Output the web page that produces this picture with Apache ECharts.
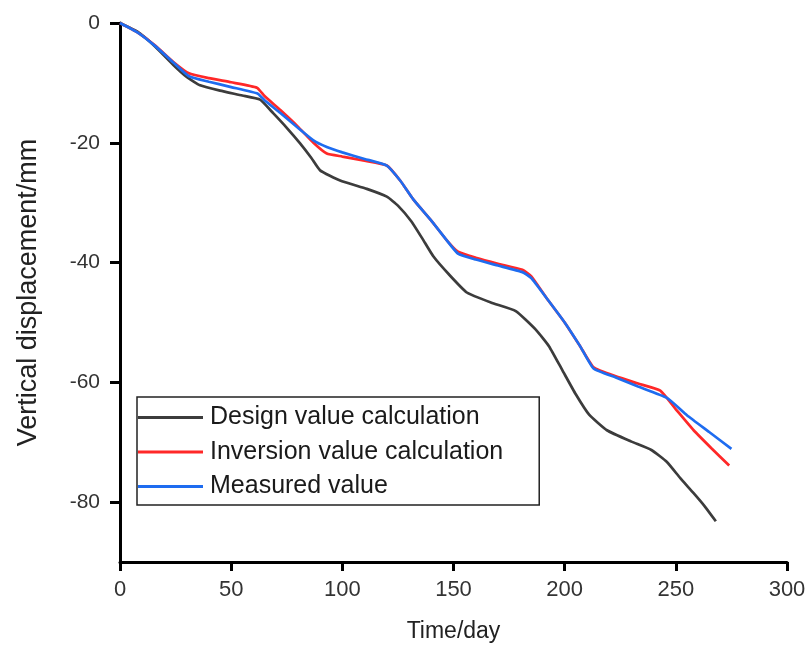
<!DOCTYPE html>
<html><head><meta charset="utf-8">
<script src="https://cdn.jsdelivr.net/npm/echarts@6/dist/echarts.min.js"></script>
<style>html,body{margin:0;padding:0;background:#fff}#c{width:806px;height:646px}</style>
</head><body><div id="c"></div>
<script>
const seriesNames = ['Design value calculation','Inversion value calculation','Measured value'];
const xTicks = [0,50,100,150,200,250,300];
const yTicks = [0,-20,-40,-60,-80];
const designValue = [[0,0],[8,-1.5],[16,-4],[24,-7],[30,-9],[36,-10.4],[45,-11.3],[55,-12.1],[63,-12.8],[69,-15.1],[75,-17.5],[81,-20.1],[86,-22.5],[90,-24.6],[99,-26.3],[111,-27.7],[120,-29],[125,-30.5],[131,-33.1],[136,-36],[141,-39],[148,-42],[156,-45],[167,-46.7],[178,-48.1],[187,-51.2],[193,-54],[199,-58],[205,-62],[211,-65.4],[219,-68],[230,-69.9],[239,-71.3],[246,-73.3],[252,-76],[258,-78.5],[263,-80.7],[268,-83.2]];
const inversionValue = [[0,0],[8,-1.6],[16,-3.8],[24,-6.5],[31,-8.4],[40,-9.2],[50,-9.9],[61.6,-10.8],[65,-12.2],[72,-14.5],[80,-17.3],[87,-20],[93,-21.8],[100,-22.3],[110,-23.0],[120,-23.8],[126,-26.3],[132,-29.5],[140,-33],[147,-36.3],[152,-38.2],[160,-39.2],[170,-40.2],[181,-41.2],[185,-42.3],[192,-46],[200,-50],[207,-54],[213,-57.5],[223,-59],[233,-60.2],[243,-61.4],[250,-64.5],[258,-68],[266,-71],[274,-73.9]];
const measuredValue = [[0,0],[8,-1.6],[16,-3.9],[24,-6.6],[31,-8.9],[40,-9.8],[50,-10.7],[62,-11.8],[65,-12.9],[72,-15],[80,-17.5],[87,-19.6],[93,-20.7],[100,-21.6],[110,-22.7],[120,-23.8],[126,-26.3],[132,-29.5],[140,-33],[147,-36.3],[152,-38.5],[160,-39.5],[170,-40.5],[181,-41.6],[185,-42.6],[192,-46],[200,-50],[207,-54],[213,-57.7],[223,-59.2],[233,-60.7],[246,-62.6],[255,-65.5],[265,-68.3],[275,-71.1]];
const colors = ['#3c3c3c','#ff2828','#1e6cf0'];
const font = 'Liberation Sans, Arial, sans-serif';
const chart = echarts.init(document.getElementById('c'));
const mk = (i, d) => ({name: seriesNames[i], type:'line', data:d, showSymbol:false, smooth:0.15,
  lineStyle:{color:colors[i], width:2.7}, itemStyle:{color:colors[i]}, z: 2+i});
chart.setOption({
  animation:false,
  backgroundColor:'#fff',
  grid:{left:120, top:23, right:19, bottom:84, containLabel:false, outerBoundsMode:'none'},
  legend:{orient:'vertical', left:137, top:397, padding:[8,36,6,1], itemGap:9.5,
    itemWidth:65, itemHeight:3, icon:'rect', borderColor:'#222', borderWidth:1.5,
    textStyle:{fontFamily:font, fontSize:25, color:'#1a1a1a', padding:[0,0,0,2]},
    data:seriesNames},
  xAxis:{type:'value', min:0, max:300, position:'bottom',
    name:'Time/day', nameLocation:'middle', nameGap:58,
    nameTextStyle:{fontFamily:font, fontSize:23, color:'#222'},
    axisLine:{show:true, onZero:false, lineStyle:{color:'#000', width:3}},
    axisTick:{show:true, length:9, lineStyle:{color:'#000', width:3}, customValues:xTicks},
    axisLabel:{fontFamily:font, fontSize:22, color:'#333', margin:17, customValues:xTicks},
    splitLine:{show:false}},
  yAxis:{type:'value', min:-90, max:0, position:'left',
    name:'Vertical displacement/mm', nameLocation:'middle', nameGap:78,
    nameTextStyle:{fontFamily:font, fontSize:27, color:'#222'},
    axisLine:{show:true, onZero:false, lineStyle:{color:'#000', width:3}},
    axisTick:{show:true, length:10, lineStyle:{color:'#000', width:3}, customValues:yTicks},
    axisLabel:{fontFamily:font, fontSize:21, color:'#333', margin:20, customValues:yTicks},
    splitLine:{show:false}},
  series:[mk(0,designValue), mk(1,inversionValue), mk(2,measuredValue)]
});
</script></body></html>
